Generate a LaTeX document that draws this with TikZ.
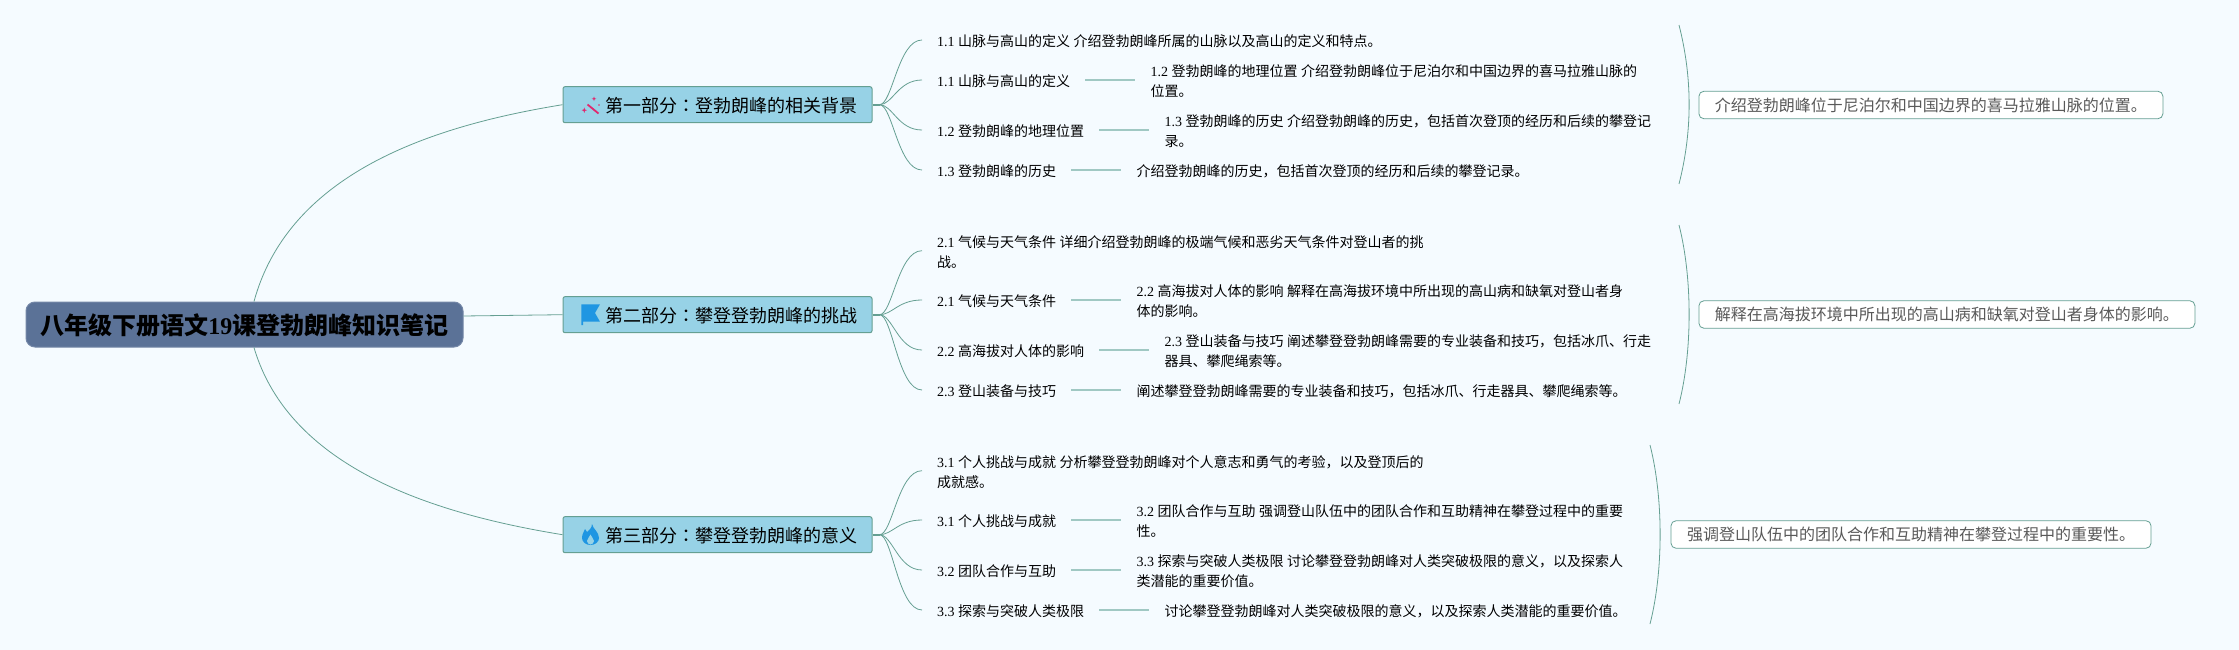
\documentclass[tikz,border=0pt]{standalone}
\usepackage{fontspec}
\setmainfont{Noto Sans CJK SC}
\newfontfamily\numfont{Liberation Serif}
\newfontfamily\colonfont{Noto Sans CJK TC}
\newcommand{\nb}[1]{{\numfont #1}}
\usetikzlibrary{
  positioning               % 节点相对定位
}
\definecolor{bgcolor}{HTML}{F5FBFF}
\definecolor{rootcolor}{HTML}{5B7297}
\definecolor{seccolor}{HTML}{97D2E6}
\definecolor{linecolor}{HTML}{659F92}
\definecolor{stemcolor}{HTML}{A0C8C3}
\definecolor{pinkcolor}{HTML}{E0286E}
\definecolor{bluecolor}{HTML}{1F96E2}
\tikzset{
  rootbox/.style={draw=rootcolor!85!white, fill=rootcolor, rounded corners=9pt, line width=1pt,
    minimum width=437pt, minimum height=45pt, inner sep=0pt, text=black,
    text height=24pt, text depth=4pt,
    font=\fontsize{24}{28}\selectfont\bfseries},
  secbox/.style={draw=linecolor, fill=seccolor, rounded corners=2pt, line width=1pt,
    minimum width=309pt, minimum height=36pt, inner xsep=15pt, inner ysep=0pt,
    text height=18pt, text depth=2.5pt,
    font=\fontsize{18}{22}\selectfont},
  topicbox/.style={anchor=west, inner xsep=15pt, inner ysep=0pt, align=left,
    font=\fontsize{14}{20.5}\selectfont},
  sumbox/.style={anchor=west, draw=linecolor, fill=white, rounded corners=5pt, line width=0.8pt,
    minimum height=27.5pt, inner xsep=16pt, inner ysep=0pt, text=black!65,
    font=\fontsize{16}{20}\selectfont},
  mainline/.style={draw=linecolor, line width=0.8pt},
  stemline/.style={draw=stemcolor, line width=1.4pt},
  branchline/.style={draw=linecolor, line width=0.8pt,
    to path={.. controls +(13,0) and +(-24,0) .. (\tikztotarget)}},
}
\begin{document}
\begin{tikzpicture}[x=1pt, y=-1pt]
    \path[use as bounding box, fill=bgcolor] (0,0) rectangle (2239,650);

    % --- 中心主题 ---
    \node[rootbox] (root) at (244.5,324.5) {八年级下册语文\nb{19}课登勃朗峰知识笔记};

    % --- 第一部分 ---
    \node[secbox] (sec1) at (717.5,104.7) {\hspace*{27pt}第一部分{\colonfont ：}登勃朗峰的相关背景};
    \node[topicbox] (t11) at (922,41.3) {\nb{1.1 }山脉与高山的定义\nb{ }介绍登勃朗峰所属的山脉以及高山的定义和特点。};
    \node[topicbox] (t12) at (922,81.3) {\nb{1.1 }山脉与高山的定义};
    \node[topicbox] (t13) at (922,131.3) {\nb{1.2 }登勃朗峰的地理位置};
    \node[topicbox] (t14) at (922,171.3) {\nb{1.3 }登勃朗峰的历史};
    \node[topicbox, right=50pt of t12] (d12) {\nb{1.2 }登勃朗峰的地理位置\nb{ }介绍登勃朗峰位于尼泊尔和中国边界的喜马拉雅山脉的\\位置。};
    \node[topicbox, right=50pt of t13] (d13) {\nb{1.3 }登勃朗峰的历史\nb{ }介绍登勃朗峰的历史，包括首次登顶的经历和后续的攀登记\\录。};
    \node[topicbox, right=50pt of t14] (d14) {介绍登勃朗峰的历史，包括首次登顶的经历和后续的攀登记录。};
    \node[sumbox] (sum1) at (1698.5,105) {介绍登勃朗峰位于尼泊尔和中国边界的喜马拉雅山脉的位置。};
    \coordinate (top1) at (1679,25);
    \coordinate (bot1) at (1679,184);

    % --- 第二部分 ---
    \node[secbox] (sec2) at (717.5,314.7) {\hspace*{27pt}第二部分{\colonfont ：}攀登登勃朗峰的挑战};
    \node[topicbox] (t21) at (922,252) {\nb{2.1 }气候与天气条件\nb{ }详细介绍登勃朗峰的极端气候和恶劣天气条件对登山者的挑\\战。};
    \node[topicbox] (t22) at (922,301.3) {\nb{2.1 }气候与天气条件};
    \node[topicbox] (t23) at (922,351.3) {\nb{2.2 }高海拔对人体的影响};
    \node[topicbox] (t24) at (922,391.3) {\nb{2.3 }登山装备与技巧};
    \node[topicbox, right=50pt of t22] (d22) {\nb{2.2 }高海拔对人体的影响\nb{ }解释在高海拔环境中所出现的高山病和缺氧对登山者身\\体的影响。};
    \node[topicbox, right=50pt of t23] (d23) {\nb{2.3 }登山装备与技巧\nb{ }阐述攀登登勃朗峰需要的专业装备和技巧，包括冰爪、行走\\器具、攀爬绳索等。};
    \node[topicbox, right=50pt of t24] (d24) {阐述攀登登勃朗峰需要的专业装备和技巧，包括冰爪、行走器具、攀爬绳索等。};
    \node[sumbox] (sum2) at (1698.5,314.5) {解释在高海拔环境中所出现的高山病和缺氧对登山者身体的影响。};
    \coordinate (top2) at (1679,225);
    \coordinate (bot2) at (1679,404);

    % --- 第三部分 ---
    \node[secbox] (sec3) at (717.5,534.7) {\hspace*{27pt}第三部分{\colonfont ：}攀登登勃朗峰的意义};
    \node[topicbox] (t31) at (922,472) {\nb{3.1 }个人挑战与成就\nb{ }分析攀登登勃朗峰对个人意志和勇气的考验，以及登顶后的\\成就感。};
    \node[topicbox] (t32) at (922,521.3) {\nb{3.1 }个人挑战与成就};
    \node[topicbox] (t33) at (922,571.3) {\nb{3.2 }团队合作与互助};
    \node[topicbox] (t34) at (922,611.3) {\nb{3.3 }探索与突破人类极限};
    \node[topicbox, right=50pt of t32] (d32) {\nb{3.2 }团队合作与互助\nb{ }强调登山队伍中的团队合作和互助精神在攀登过程中的重要\\性。};
    \node[topicbox, right=50pt of t33] (d33) {\nb{3.3 }探索与突破人类极限\nb{ }讨论攀登登勃朗峰对人类突破极限的意义，以及探索人\\类潜能的重要价值。};
    \node[topicbox, right=50pt of t34] (d34) {讨论攀登登勃朗峰对人类突破极限的意义，以及探索人类潜能的重要价值。};
    \node[sumbox] (sum3) at (1670.6,534.5) {强调登山队伍中的团队合作和互助精神在攀登过程中的重要性。};
    \coordinate (top3) at (1650,445);
    \coordinate (bot3) at (1650,624);

    % --- 连线 ---
    \draw[mainline] ([xshift=9.5pt]root.north) .. controls +(36,-132) and +(-123,20) .. (sec1.west);
    \draw[mainline] ([yshift=8.5pt]root.east) -- (sec2.west);
    \draw[mainline] ([xshift=9.5pt]root.south) .. controls +(36,123) and +(-123,-20) .. (sec3.west);
    \foreach \s in {1,2,3}{
      \coordinate (hub\s) at ([xshift=7pt]sec\s.east);
      \draw[linecolor, line width=1.8pt] (sec\s.east) -- (hub\s);
      \foreach \i in {1,2,3,4}{
        \draw[branchline] (hub\s) to ([yshift=1.3pt]t\s\i.west);
      }
      \foreach \i in {2,3,4}{
        \draw[stemline] ([yshift=1.3pt]t\s\i.east) -- ([yshift=1.3pt]d\s\i.west);
      }
      \draw[mainline] (top\s) .. controls +(13.5,53) and +(13.5,-53) .. (bot\s);
    }

    % --- 图标 ---
    \draw[pinkcolor, line width=1.8pt] (587.5,104.5) -- (598.5,113.5);
    \fill[pinkcolor] (584.3,107.5) -- (585,109.5) -- (587,110.2) -- (585,110.9) -- (584.3,113) -- (583.6,110.9) -- (581.6,110.2) -- (583.6,109.5) -- cycle;
    \fill[pinkcolor] (594,96.5) -- (594.6,98.2) -- (596.3,98.8) -- (594.6,99.4) -- (594,101.1) -- (593.4,99.4) -- (591.7,98.8) -- (593.4,98.2) -- cycle;
    \fill[pinkcolor] (599,105) circle (0.9);
    \fill[bluecolor] (581.3,304.3) -- (600,304.3) -- (595,313) -- (600,321.7) -- (583,321.7) -- (583,325) -- (581.3,325) -- cycle;
    \fill[bluecolor] (592,524) .. controls (593,529) and (599,532) .. (599,538)
      .. controls (599,542) and (595,545) .. (590.5,545)
      .. controls (586,545) and (582,542) .. (582,538)
      .. controls (582,534) and (584,532) .. (585,529)
      .. controls (586,530) and (586.5,531) .. (587,532)
      .. controls (589,530) and (592,528) .. (592,524) -- cycle;
    \fill[seccolor] (590.5,534.5) .. controls (591,537) and (594,538.5) .. (594,541)
      .. controls (594,543) and (592,544.5) .. (590.5,544.5)
      .. controls (589,544.5) and (587,543) .. (587,541)
      .. controls (587,538.5) and (590,537) .. (590.5,534.5) -- cycle;
\end{tikzpicture}
\end{document}
